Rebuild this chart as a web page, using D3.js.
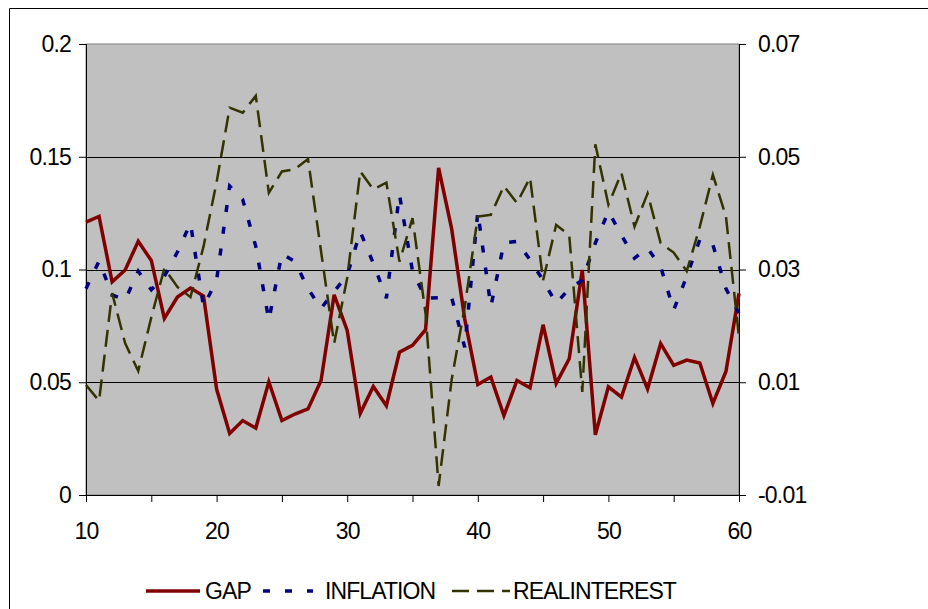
<!DOCTYPE html>
<html>
<head>
<meta charset="utf-8" />
<script src="https://d3js.org/d3.v7.min.js"></script>
<style>
  body { margin: 0; background: #fff; }
  text { font-family: "Liberation Sans", Arial, sans-serif; fill: #000; }
  .grid line { stroke: #000; stroke-width: 1px; }
</style>
</head>
<body>
<svg id="chart" width="928" height="609"></svg>
<script>
// periods on the x axis
const periods = [10, 11, 12, 13, 14, 15, 16, 17, 18, 19, 20, 21, 22, 23, 24, 25, 26, 27, 28, 29, 30,
  31, 32, 33, 34, 35, 36, 37, 38, 39, 40, 41, 42, 43, 44, 45, 46, 47, 48, 49, 50,
  51, 52, 53, 54, 55, 56, 57, 58, 59, 60];

// GAP - left axis
const gap = [0.121, 0.1235, 0.0945, 0.0998, 0.1125, 0.104, 0.0783, 0.0878, 0.0918, 0.0882, 0.047,
  0.0273, 0.033, 0.0297, 0.0502, 0.033, 0.0359, 0.0382, 0.0508, 0.0888, 0.073,
  0.0362, 0.0481, 0.0396, 0.0633, 0.0664, 0.0733, 0.1451, 0.118, 0.078, 0.049,
  0.0523, 0.0352, 0.0508, 0.0475, 0.0755, 0.0495, 0.0604, 0.0998, 0.0267, 0.048,
  0.0434, 0.061, 0.047, 0.0671, 0.0575, 0.0598, 0.0585, 0.0406, 0.0548, 0.0894];

// INFLATION - right axis
const inflation = [0.0266, 0.0315, 0.0255, 0.0246, 0.0297, 0.0264, 0.0288, 0.0331, 0.0382, 0.0234, 0.0281,
  0.0448, 0.0424, 0.0341, 0.021, 0.0328, 0.0314, 0.0266, 0.0231, 0.0261, 0.029,
  0.0367, 0.0311, 0.0249, 0.0433, 0.0297, 0.0249, 0.025, 0.025, 0.0162, 0.0402,
  0.0234, 0.0347, 0.035, 0.0317, 0.0281, 0.024, 0.0266, 0.0281, 0.0347, 0.0403,
  0.0361, 0.032, 0.0338, 0.0305, 0.0228, 0.0288, 0.0353, 0.0344, 0.0266, 0.0222];

// REALINTEREST - right axis
const realInterest = [0.0095, 0.0067, 0.0258, 0.0169, 0.012, 0.0215, 0.0302, 0.0269, 0.0251, 0.0341, 0.0455,
  0.0587, 0.0578, 0.0608, 0.0436, 0.0474, 0.0478, 0.0496, 0.0332, 0.0169, 0.0285,
  0.0474, 0.0442, 0.0454, 0.0314, 0.0391, 0.0222, -0.0084, 0.0105, 0.0234, 0.0394,
  0.0397, 0.0448, 0.0418, 0.0463, 0.0281, 0.0379, 0.0361, 0.0083, 0.0522, 0.0415,
  0.0471, 0.0376, 0.0435, 0.0347, 0.033, 0.0297, 0.0376, 0.0468, 0.0394, 0.018];

const leftTicks = [0, 0.05, 0.1, 0.15, 0.2];
const rightTicks = [-0.01, 0.01, 0.03, 0.05, 0.07];
const xLabels = [10, 20, 30, 40, 50, 60];
const xTicks = [10, 15, 20, 25, 30, 35, 40, 45, 50, 55, 60];

const series = [
  { name: "GAP", values: gap, axis: "left", color: "#800000", width: 3.5, dash: null },
  { name: "INFLATION", values: inflation, axis: "right", color: "#000080", width: 3.5, dash: "7,15" },
  { name: "REALINTEREST", values: realInterest, axis: "right", color: "#333300", width: 2.5, dash: "17,8" }
];

const plot = { left: 86, right: 739, top: 44, bottom: 495 };

const svg = d3.select("#chart");

// outer chart frame
svg.append("path")
  .attr("d", "M9.5,609 V8.5 H928")
  .attr("fill", "none")
  .attr("stroke", "#000")
  .attr("stroke-width", 1);

const x = d3.scaleLinear().domain([10, 60]).range([plot.left, plot.right]);
const yL = d3.scaleLinear().domain([0, 0.2]).range([plot.bottom, plot.top]);
const yR = d3.scaleLinear().domain([-0.01, 0.07]).range([plot.bottom, plot.top]);

// plot background
svg.append("rect")
  .attr("x", plot.left).attr("y", plot.top)
  .attr("width", plot.right - plot.left).attr("height", plot.bottom - plot.top)
  .attr("fill", "#c0c0c0")
  .attr("stroke", "#808080")
  .attr("stroke-width", 1);

// gridlines
svg.append("g").attr("class", "grid")
  .selectAll("line")
  .data(leftTicks.filter(d => d > 0 && d < 0.2))
  .join("line")
  .attr("x1", plot.left).attr("x2", plot.right)
  .attr("y1", d => Math.round(yL(d)) + 0.5).attr("y2", d => Math.round(yL(d)) + 0.5);

// axes
const fmt = d => String(+d.toFixed(3));

const leftAxis = svg.append("g")
  .attr("transform", `translate(${plot.left},0)`)
  .call(d3.axisLeft(yL).tickValues(leftTicks).tickFormat(fmt).tickSize(7).tickPadding(8));

const rightAxis = svg.append("g")
  .attr("transform", `translate(${plot.right},0)`)
  .call(d3.axisRight(yR).tickValues(rightTicks).tickFormat(fmt).tickSize(7).tickPadding(12));

const bottomAxis = svg.append("g")
  .attr("transform", `translate(0,${plot.bottom})`)
  .call(d3.axisBottom(x).tickValues(xTicks)
    .tickFormat(d => xLabels.includes(d) ? d : "").tickSize(7).tickPadding(21));

[leftAxis, rightAxis, bottomAxis].forEach(g => {
  g.select(".domain").attr("stroke", "#000");
  g.selectAll(".tick line").attr("stroke", "#000");
  g.selectAll("text")
    .attr("font-family", "'Liberation Sans', Arial, sans-serif")
    .attr("font-size", 23)
    .attr("letter-spacing", "-0.8")
    .attr("fill", "#000");
});

// lines
const lineGroup = svg.append("g");
series.forEach(s => {
  const yScale = s.axis === "left" ? yL : yR;
  const line = d3.line()
    .x((d, i) => x(periods[i]))
    .y(d => yScale(d));
  lineGroup.append("path")
    .datum(s.values)
    .attr("d", line)
    .attr("fill", "none")
    .attr("stroke", s.color)
    .attr("stroke-width", s.width)
    .attr("stroke-linejoin", "miter")
    .attr("stroke-dasharray", s.dash);
});

// legend
const legendItems = [
  { s: series[0], x1: 146, x2: 200, tx: 205 },
  { s: series[1], x1: 263, x2: 313, tx: 325 },
  { s: series[2], x1: 452, x2: 510, tx: 513 }
];
const legendY = 591;
const legend = svg.append("g");
legendItems.forEach(it => {
  legend.append("line")
    .attr("x1", it.x1).attr("x2", it.x2)
    .attr("y1", legendY).attr("y2", legendY)
    .attr("stroke", it.s.color)
    .attr("stroke-width", it.s.width)
    .attr("stroke-dasharray", it.s.dash);
  legend.append("text")
    .attr("x", it.tx).attr("y", legendY)
    .attr("dy", "0.36em")
    .attr("font-size", 23)
    .attr("letter-spacing", "-0.9")
    .text(it.s.name);
});
</script>
</body>
</html>
